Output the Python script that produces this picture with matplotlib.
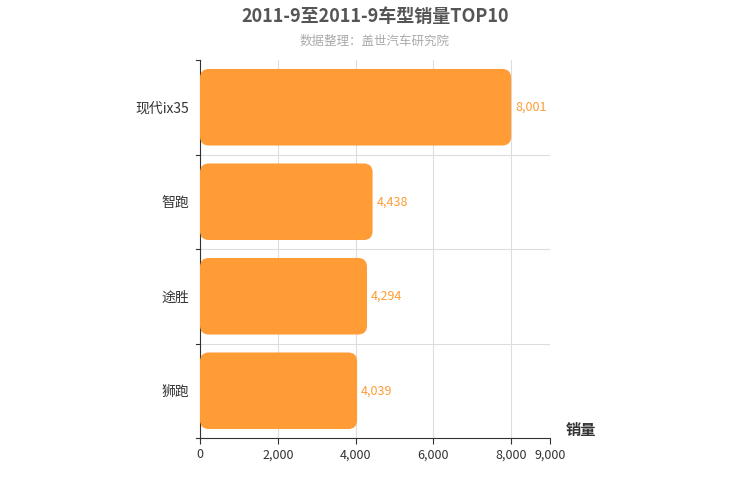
import matplotlib.pyplot as plt
from matplotlib.patches import FancyBboxPatch

plt.rcParams['font.family'] = ['Noto Sans CJK SC', 'DejaVu Sans']

models = ['现代ix35', '智跑', '途胜', '狮跑']
sales = [8001, 4438, 4294, 4039]
xticks = [0, 2000, 4000, 6000, 8000, 9000]
bar_color = '#FF9C35'

fig = plt.figure(figsize=(7.5, 5), dpi=100)
ax = fig.add_axes([200 / 750, 62 / 500, 350 / 750, 378 / 500])
ax.set_xlim(0, 9000)
ax.set_ylim(len(models) - 0.5, -0.5)

# 圆角条形：x 方向每像素约 25.7，y 方向每像素约 0.0106
aspect = (4 / 378) / (9000 / 350)
h = 0.81
for i, v in enumerate(sales):
    ax.add_patch(FancyBboxPatch((0, i - h / 2), v, h,
                                boxstyle='round,pad=0,rounding_size=230',
                                mutation_aspect=aspect,
                                fc=bar_color, ec='none', zorder=3))
    ax.text(v + 100, i, f'{v:,}', va='center', ha='left',
            fontsize=9, color=bar_color, zorder=4)

ax.set_xticks(xticks)
ax.set_xticklabels([f'{t:,}' for t in xticks], fontsize=9, color='#333333')
ax.set_yticks(range(len(models)))
ax.set_yticklabels(models, fontsize=10, color='#333333')
ax.tick_params(axis='y', length=0, pad=8)
ax.tick_params(axis='x', length=4, color='#333333')

# 网格线
for t in xticks[1:]:
    ax.axvline(t, color='#dddddd', lw=0.8, zorder=0)
for b in [0.5, 1.5, 2.5]:
    ax.axhline(b, color='#dddddd', lw=0.8, zorder=0)
for b in [-0.5, 0.5, 1.5, 2.5, 3.5]:
    ax.plot([-110, 0], [b, b], color='#333333', lw=0.8, clip_on=False)

for s in ['top', 'right']:
    ax.spines[s].set_visible(False)
ax.spines['left'].set_color('#333333')
ax.spines['bottom'].set_color('#333333')

ax.text(9400, 3.5, '销量', fontsize=11, color='#333333',
        ha='left', va='bottom', fontweight='bold')

fig.text(0.5, 1 - 16 / 500, '2011-9至2011-9车型销量TOP10', ha='center', va='center',
         fontsize=13, fontweight='bold', color='#555555')
fig.text(0.5, 1 - 41 / 500, '数据整理：盖世汽车研究院', ha='center', va='center',
         fontsize=9, color='#aaaaaa')

fig.savefig('out.png', dpi=100)
